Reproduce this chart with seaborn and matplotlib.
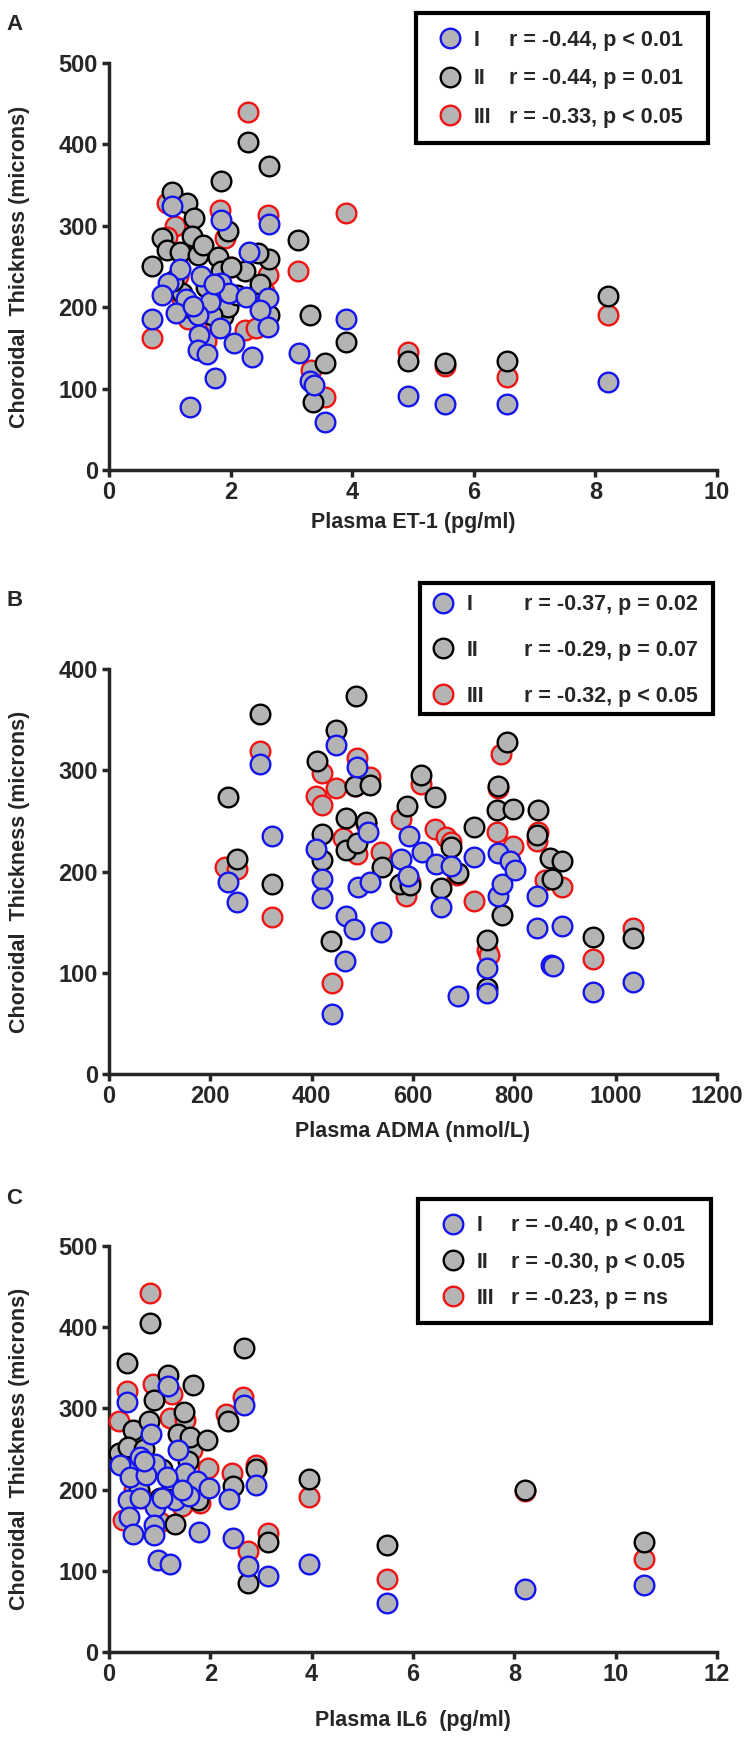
import matplotlib
matplotlib.use("Agg")
import matplotlib.pyplot as plt
from matplotlib.lines import Line2D
from matplotlib.patches import Rectangle
import seaborn as sns

# Panel A: plasma ET-1 (pg/ml) vs choroidal thickness (microns)
et1_x_I = [1.03, 1.84, 2.63, 2.30, 1.16, 0.97, 0.87, 1.52, 1.85, 1.98, 1.27, 1.66, 1.10,
           1.46, 2.26, 2.61, 2.48, 2.61, 1.83, 0.71, 1.48, 1.46, 1.61, 2.06, 2.36, 1.74,
           1.33, 3.13, 3.31, 3.37, 3.55, 3.89, 4.92, 5.52, 6.54, 8.21, 1.72, 1.38]
et1_y_I = [324, 307, 302, 268, 247, 230, 215, 238, 230, 217, 210, 207, 193,
           190, 213, 211, 196, 176, 174, 185, 166, 147, 143, 156, 139, 113,
           78, 144, 109, 104, 59, 186, 91, 81, 81, 108, 228, 202]
et1_x_II = [2.29, 2.63, 1.84, 1.03, 1.28, 1.40, 1.96, 0.87, 1.36, 0.95, 1.16, 1.46, 1.55,
            1.79, 0.70, 3.11, 2.63, 2.45, 2.24, 2.48, 1.85, 3.31, 2.63, 1.87, 3.55, 3.36,
            3.89, 4.92, 5.52, 6.54, 8.21, 1.20, 1.95, 1.60, 2.10, 1.30, 1.05, 2.00, 1.70]
et1_y_II = [403, 373, 355, 341, 328, 309, 293, 285, 287, 270, 268, 264, 276,
            262, 251, 283, 259, 267, 244, 229, 244, 191, 190, 189, 131, 84,
            157, 134, 132, 134, 214, 218, 200, 225, 215, 200, 232, 250, 190]
et1_x_III = [2.29, 0.95, 1.83, 2.62, 1.09, 0.95, 1.91, 3.11, 2.62, 0.70, 2.24, 2.42, 1.91,
             1.13, 3.89, 4.92, 5.52, 6.54, 8.21, 3.55, 3.33, 1.59, 1.83, 1.45, 1.30, 2.00,
             1.20, 1.60, 2.55, 1.75]
et1_y_III = [440, 328, 320, 313, 300, 286, 285, 244, 240, 162, 172, 175, 200,
             238, 316, 145, 128, 114, 190, 90, 123, 158, 213, 265, 185, 250,
             210, 195, 220, 180]

# Panel B: plasma ADMA (nmol/L)
adma_x_I = [234, 252, 298, 321, 408, 420, 420, 449, 440, 467, 465, 484, 489, 491, 511,
            515, 537, 577, 590, 593, 617, 645, 656, 675, 689, 721, 746, 746, 768, 768,
            775, 791, 801, 845, 844, 872, 877, 895, 955, 1034]
adma_y_I = [190, 170, 306, 235, 222, 193, 174, 325, 59, 156, 112, 143, 303, 185, 239,
            190, 140, 212, 196, 235, 219, 207, 165, 205, 77, 214, 105, 80, 218, 176,
            188, 210, 201, 176, 144, 108, 107, 146, 81, 91]
adma_x_II = [234, 252, 298, 321, 411, 420, 420, 439, 449, 467, 467, 487, 486, 508, 489,
             516, 538, 574, 589, 594, 616, 643, 655, 675, 689, 721, 747, 747, 768, 765,
             797, 785, 775, 847, 844, 870, 895, 874, 955, 1034]
adma_y_II = [274, 212, 356, 188, 309, 237, 211, 131, 340, 253, 221, 373, 284, 249, 228,
             285, 204, 188, 265, 187, 295, 274, 184, 224, 199, 244, 132, 85, 284, 261,
             262, 328, 157, 261, 236, 213, 210, 193, 135, 134]
adma_x_III = [229, 252, 298, 321, 409, 420, 421, 440, 449, 462, 489, 489, 515, 536, 577,
              586, 616, 643, 666, 675, 687, 721, 746, 750, 773, 765, 797, 847, 845, 860,
              895, 955, 1035, 508, 594, 768, 486]
adma_y_III = [204, 202, 319, 155, 275, 266, 297, 90, 282, 233, 312, 217, 293, 219, 252,
              176, 286, 242, 234, 229, 197, 171, 122, 118, 316, 239, 225, 239, 230, 192,
              185, 114, 144, 247, 190, 282, 284]

# Panel C: plasma IL6 (pg/ml)
il6_x_I = [0.36, 1.17, 2.66, 0.82, 0.22, 0.61, 0.41, 0.91, 0.74, 1.37, 1.50, 1.73, 1.98,
           2.90, 2.36, 0.38, 0.91, 1.30, 1.57, 0.40, 0.88, 0.48, 0.88, 1.78, 2.44, 2.75,
           3.14, 0.97, 1.20, 3.94, 5.48, 8.21, 10.56, 0.62, 1.05, 1.45, 0.70, 1.15]
il6_y_I = [308, 327, 304, 269, 230, 240, 216, 232, 218, 249, 220, 210, 202,
           206, 189, 187, 178, 187, 192, 166, 156, 145, 144, 148, 141, 106,
           93, 113, 108, 108, 60, 78, 82, 190, 190, 200, 235, 215]
il6_x_II = [0.81, 2.66, 0.36, 1.17, 1.66, 0.88, 2.35, 1.48, 0.48, 0.78, 1.37, 1.60, 1.94,
            0.20, 0.38, 1.20, 2.91, 2.45, 1.76, 1.30, 3.14, 2.75, 3.94, 5.48, 8.21, 10.56,
            1.00, 0.55, 1.05, 0.70, 1.55, 0.60]
il6_y_II = [405, 374, 356, 341, 329, 310, 285, 296, 274, 284, 269, 265, 261,
            245, 253, 212, 225, 204, 187, 158, 135, 85, 213, 132, 200, 135,
            190, 230, 225, 250, 235, 200]
il6_x_III = [0.81, 0.35, 0.86, 1.24, 2.65, 2.31, 0.19, 1.20, 1.50, 1.63, 1.96, 2.43, 2.91,
             3.14, 2.75, 0.28, 3.94, 5.48, 8.21, 10.56, 1.80, 1.45, 0.50, 1.00, 0.65]
il6_y_III = [442, 321, 330, 318, 314, 293, 284, 288, 286, 249, 226, 221, 230,
             146, 124, 163, 191, 90, 198, 115, 183, 180, 200, 160, 190]

et1_stats = ["r = -0.44, p < 0.01", "r = -0.44, p = 0.01", "r = -0.33, p < 0.05"]
adma_stats = ["r = -0.37, p = 0.02", "r = -0.29, p = 0.07", "r = -0.32, p < 0.05"]
il6_stats = ["r = -0.40, p < 0.01", "r = -0.30, p < 0.05", "r = -0.23, p = ns"]

GROUPS = ["I", "II", "III"]
EDGE = {"I": "#1414f0", "II": "#000000", "III": "#f01414"}
FILL = "#b4b4b4"
W, H = 751, 1739

sns.set_style("ticks")
plt.rcParams["font.family"] = ["Liberation Sans", "DejaVu Sans"]
plt.rcParams["font.weight"] = "bold"
plt.rcParams["axes.labelweight"] = "bold"

fig = plt.figure(figsize=(W / 100, H / 100), dpi=100)


def make_axes(top_px, bottom_px):
    left, right = 109, 717
    return fig.add_axes([left / W, 1 - bottom_px / H, (right - left) / W, (bottom_px - top_px) / H])


def draw_panel(ax, xs, ys, xmax, xstep, ymax, xlabel, xlab_y):
    # red first, blue last, as in the original
    for g in ["III", "II", "I"]:
        sns.scatterplot(x=xs[g], y=ys[g], ax=ax, color=FILL, edgecolor=EDGE[g],
                        s=200, linewidth=1.7, legend=False, zorder=3, clip_on=False)
    ax.set_xlim(0, xmax)
    ax.set_ylim(0, ymax)
    ax.set_xticks(range(0, xmax + 1, xstep))
    ax.set_yticks(range(0, ymax + 1, 100))
    sns.despine(ax=ax)
    for side in ["left", "bottom"]:
        ax.spines[side].set_linewidth(2.5)
    ax.tick_params(width=2.5, length=5, labelsize=17, pad=3)
    ax.set_xlabel(xlabel, fontsize=15.5, va="center")
    ax.xaxis.set_label_coords(0.5, xlab_y)
    ax.set_ylabel("Choroidal  Thickness (microns)", fontsize=15.5, va="center")
    ax.yaxis.set_label_coords(-0.148, 0.5)


def add_legend(ax, stats, box, bpad, hlen, htpad, cspace, lspace):
    left, top, right, bottom = box
    handles = [Line2D([], [], ls="none", marker="o", ms=14.1, mfc=FILL,
                      mec=EDGE[g], mew=1.7) for g in GROUPS]
    blanks = [Line2D([], [], ls="none", marker="") for _ in GROUPS]
    ax.legend(handles + blanks, GROUPS + stats, ncol=2, loc="upper left",
              bbox_to_anchor=(left / W, 1 - top / H),
              bbox_transform=fig.transFigure, borderaxespad=0, frameon=False,
              fontsize=15.5, borderpad=bpad, handlelength=hlen,
              handletextpad=htpad, columnspacing=cspace, labelspacing=lspace)
    # square black frame around the legend, sized like the original box
    fig.add_artist(Rectangle((left / W, 1 - bottom / H), (right - left) / W,
                             (bottom - top) / H, transform=fig.transFigure,
                             fill=False, edgecolor="black", linewidth=3.0))


panels = [
    (63, 470, {"I": et1_x_I, "II": et1_x_II, "III": et1_x_III},
     {"I": et1_y_I, "II": et1_y_II, "III": et1_y_III},
     10, 2, 500, "Plasma ET-1 (pg/ml)", -0.13, et1_stats,
     ((416, 13, 708, 143), 0.78, 1.6, 0.32, -1.13, 0.81), "A", 25),
    (669, 1074, {"I": adma_x_I, "II": adma_x_II, "III": adma_x_III},
     {"I": adma_y_I, "II": adma_y_II, "III": adma_y_III},
     1200, 200, 400, "Plasma ADMA (nmol/L)", -0.143, adma_stats,
     ((420, 583, 713, 714), 0.52, 1.1, 0.54, 0.21, 1.15), "B", 601),
    (1246, 1652, {"I": il6_x_I, "II": il6_x_II, "III": il6_x_III},
     {"I": il6_y_I, "II": il6_y_II, "III": il6_y_III},
     12, 2, 500, "Plasma IL6  (pg/ml)", -0.168, il6_stats,
     ((418, 1199, 711, 1323), 0.76, 1.74, 0.20, -1.14, 0.71), "C", 1199),
]

for top, bottom, xs, ys, xmax, xstep, ymax, xlabel, xlab_y, stats, leg_opts, letter, letter_y in panels:
    ax = make_axes(top, bottom)
    draw_panel(ax, xs, ys, xmax, xstep, ymax, xlabel, xlab_y)
    add_legend(ax, stats, *leg_opts)
    fig.text(6 / W, 1 - letter_y / H, letter, fontsize=16, fontweight="bold",
             ha="left", va="center")

fig.savefig("out.png", dpi=100)
